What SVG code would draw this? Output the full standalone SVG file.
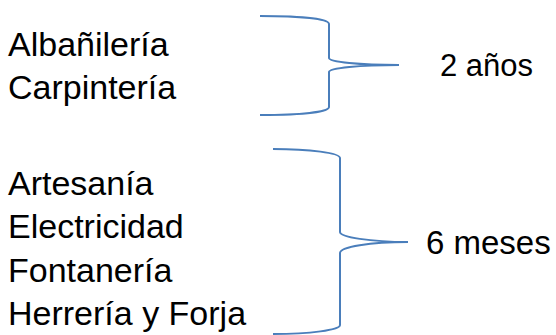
<svg xmlns="http://www.w3.org/2000/svg" width="556" height="335" viewBox="0 0 556 335">
<style>
text{font-family:"Liberation Sans",Arial,sans-serif;font-size:34px;fill:#000}
.br{fill:none;stroke:#4a7ebb;stroke-width:2}
</style>
<rect width="556" height="335" fill="#fff"/>
<g id="labels-a">
<text x="8" y="56">Albañilería</text>
<text x="8" y="99">Carpintería</text>
</g>
<g id="labels-b">
<text x="8" y="195">Artesanía</text>
<text x="8" y="238">Electricidad</text>
<text x="8" y="282">Fontanería</text>
<text x="8" y="325">Herrería y Forja</text>
</g>
<g id="connectors">
<path class="br" d="M260,16 C300,16 329,19 329,24 L329,58 C329,62 360,65 399,65 C360,65 329,68 329,72 L329,107 C329,112 300,115 260,115"/>
<path class="br" d="M273,149 C310,149 340,153 340,158 L340,232 C340,237 370,242 408,242 C370,242 340,247 340,253 L340,325 C340,330 310,334 273,334"/>
</g>
<g id="n-2anos"><text x="440" y="76" style="font-size:31px">2 años</text></g>
<g id="n-6meses"><text x="426" y="254" style="font-size:33px">6 meses</text></g>
</svg>
